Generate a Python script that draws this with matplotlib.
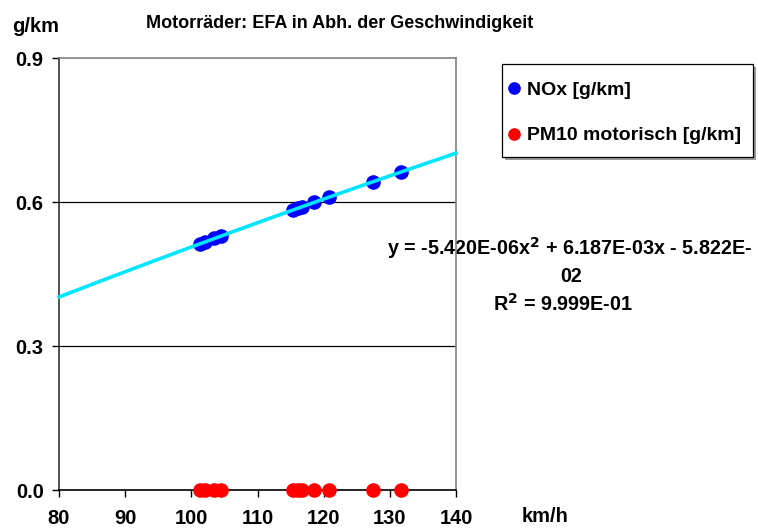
import numpy as np
import matplotlib
matplotlib.use("Agg")
import matplotlib.pyplot as plt
from matplotlib.patches import Rectangle

plt.rcParams['font.family'] = ['Liberation Sans', 'DejaVu Sans']
plt.rcParams['font.weight'] = 'bold'

# Geschwindigkeit [km/h]
speed = [101.3, 102.0, 103.5, 104.5, 115.3, 116.1, 116.8, 118.6, 120.8, 127.4, 131.7]
# NOx [g/km]
nox = [0.513, 0.516, 0.524, 0.529, 0.583, 0.587, 0.590, 0.599, 0.610, 0.642, 0.663]
# PM10 motorisch [g/km]
pm10 = [0.0, 0.0, 0.0, 0.0, 0.0, 0.0, 0.0, 0.0, 0.0, 0.0, 0.0]
# polynom 2. ordnung (trendlinie)
coef = [-5.420e-06, 6.187e-03, -5.822e-02]

xticks = [80, 90, 100, 110, 120, 130, 140]
yticks = [0.0, 0.3, 0.6, 0.9]

W, H = 758, 530
fs = 14.5
fig = plt.figure(figsize=(W/100, H/100), dpi=100)
ax = fig.add_axes([59/W, 1-490/H, 397/W, 432/H])
ax.patch.set_alpha(0)

# trendline
xx = np.linspace(80, 140, 200)
ax.plot(xx, np.polyval(coef, xx), color='#00e5ff', lw=2.6, zorder=3, clip_on=False)

ax.plot(speed, nox, 'o', color='#0000ff', ms=9.5, zorder=2, label='NOx [g/km]')
ax.plot(speed, pm10, 'o', color='#ff0000', ms=9.5, zorder=4, clip_on=False,
        label='PM10 motorisch [g/km]')

ax.set_xlim(80, 140)
ax.set_ylim(0, 0.9)
ax.set_xticks(xticks)
ax.set_yticks(yticks)
ax.set_yticklabels(['0.0', '0.3', '0.6', '0.9'])
ax.tick_params(direction='out', length=5, width=1, labelsize=fs)
ax.tick_params(axis='x', pad=8.5)
ax.tick_params(axis='y', pad=6)
for lab in ax.get_xticklabels() + ax.get_yticklabels():
    lab.set_fontweight('bold')

for yv in [0.3, 0.6]:
    ax.axhline(yv, color='black', lw=0.9, zorder=1)

ax.spines['left'].set_color('#333333')
ax.spines['bottom'].set_color('black')
ax.spines['top'].set_color('#808080')
ax.spines['right'].set_color('#808080')
for s in ax.spines.values():
    s.set_linewidth(1.2)

fig.text(340/W, 1-28/H, 'Motorräder: EFA in Abh. der Geschwindigkeit',
         ha='center', va='baseline', fontsize=13, fontweight='bold')
fig.text(12/W, 1-27/H, 'g/km', ha='left', va='center', fontsize=fs, fontweight='bold')
fig.text(522/W, 1-517/H, 'km/h', ha='left', va='center', fontsize=fs, fontweight='bold')

# equation text sits under the frame
eq = 'y = -5.420E-06x$^2$ + 6.187E-03x - 5.822E-'
ax.text(387/W, 1-248/H, eq, transform=fig.transFigure, ha='left', va='center',
        fontsize=14.2, fontweight='bold', zorder=2, clip_on=False)
ax.text(571/W, 1-277/H, '02', transform=fig.transFigure, ha='center', va='center',
        fontsize=14.2, fontweight='bold', zorder=2, clip_on=False)
ax.text(563/W, 1-304/H, 'R$^2$ = 9.999E-01', transform=fig.transFigure, ha='center',
        va='center', fontsize=14.2, fontweight='bold', zorder=2, clip_on=False)

# legend box with shadow
fig.patches.append(Rectangle((505/W, 1-160/H), 251/W, 93/H, transform=fig.transFigure,
                             facecolor='#9a9a9a', edgecolor='none', zorder=1))
fig.patches.append(Rectangle((502/W, 1-157/H), 251/W, 93/H, transform=fig.transFigure,
                             facecolor='white', edgecolor='black', lw=0.9, zorder=1.1))

leg = fig.legend(loc='upper left', bbox_to_anchor=(509/W, 1-81/H), frameon=False,
                 handletextpad=0.43, handlelength=0.5, labelspacing=1.45,
                 borderpad=0, borderaxespad=0, handleheight=0.7,
                 prop={'weight': 'bold', 'size': 14}, markerscale=0.85)
leg.set_zorder(5)

plt.savefig('out.png', dpi=100)
